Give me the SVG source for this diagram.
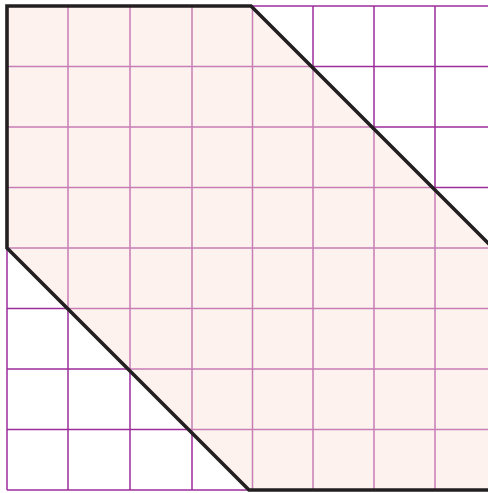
<svg xmlns="http://www.w3.org/2000/svg" width="488" height="493" viewBox="0 0 488 493">
<style>
.g{stroke:#9c2c9a;stroke-width:1.5;fill:none}
.fill{fill:#fae2d7;fill-opacity:0.45;stroke:none}
.b{stroke:#231f20;stroke-width:3.6;fill:none;stroke-linejoin:miter}
</style>
<rect width="488" height="493" fill="#ffffff"/>
<g id="grid" class="g">
<path d="M7,6V490M68,6V490M130,6V490M192,6V490M252.5,6V490M313,6V490M374,6V490M435,6V490"/>
<path d="M7,6H488M7,66.5H488M7,127H488M7,187.5H488M7,248H488M7,308.5H488M7,369H488M7,429.5H488M7,490H488"/>
</g>
<g id="region">
<polygon class="fill" points="7,6 251,6 490,245 490,490 250,490 7,248"/>
</g>
<g id="connectors">
<polyline class="b" points="492,247 251,6 7,6 7,248 249,490 492,490"/>
</g>
</svg>
